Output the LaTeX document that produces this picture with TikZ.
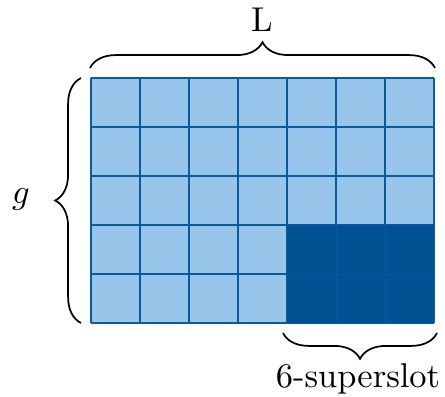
\documentclass[tikz,border=0pt]{standalone}
\usetikzlibrary{decorations.pathreplacing}
\definecolor{lightcell}{RGB}{152,198,234}
\definecolor{darkcell}{RGB}{0,82,147}
\definecolor{gridline}{RGB}{10,90,160}
\tikzset{
  cellline/.style={draw=gridline, line width=0.3pt},
  bracestyle/.style={decorate, decoration={brace, amplitude=7.5pt}, line width=0.5pt},
  lbl/.style={inner sep=0pt, anchor=base, font=\fontsize{10}{12}\selectfont}
}
\begin{document}
\begin{tikzpicture}[x=0.010204cm, y=-0.010204cm]
\useasboundingbox (0,0) rectangle (445,397);
% light cells
\fill[lightcell] (91,78) rectangle (434,323);
% grid lines
\foreach \i in {0,...,7} {
  \draw[cellline] ({91+49*\i},78) -- ({91+49*\i},323);
}
\foreach \j in {0,...,5} {
  \draw[cellline] (91,{78+49*\j}) -- (434,{78+49*\j});
}
% dark block with faint inner lines
\fill[darkcell] (287,225) rectangle (434,323);
\draw[draw=gridline!70!darkcell, line width=0.2pt] (336,225) -- (336,323) (385,225) -- (385,323) (287,274) -- (434,274);
% braces
\coordinate (tl) at (90,68);
\coordinate (tr) at (435,68);
\coordinate (lb) at (81,323);
\coordinate (lt) at (81,78);
\coordinate (br) at (437,333);
\coordinate (bl) at (283,333);
\draw[bracestyle] (tl) -- (tr);
\draw[bracestyle] (lb) -- (lt);
\draw[bracestyle] (br) -- (bl);
% labels
\node[lbl] (Llbl) at (262,32) {L};
\node[lbl] (glbl) at (21,204) {$g$};
\node[lbl] (slbl) at (358,387) {6-superslot};
\end{tikzpicture}
\end{document}
